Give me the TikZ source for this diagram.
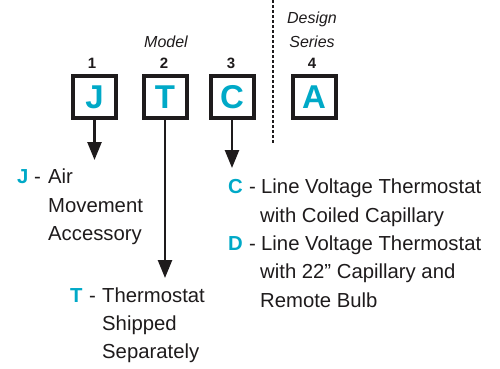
\documentclass[tikz,border=0pt]{standalone}
\usepackage{fontspec}
\setmainfont{Liberation Sans}
\usetikzlibrary{arrows.meta}
\definecolor{cy}{RGB}{0,169,199}
\definecolor{ink}{RGB}{30,27,28}
\tikzset{
  codebox/.style={draw=ink, line width=4pt, minimum width=43pt, minimum height=42pt, inner sep=0pt,
    font=\fontsize{33}{36}\selectfont\bfseries, text=cy},
  numlbl/.style={font=\fontsize{15}{17}\selectfont\bfseries, text=ink, anchor=base, inner sep=0pt},
  hdr/.style={font=\fontsize{16}{18}\selectfont\itshape, text=ink, anchor=base, inner sep=0pt},
  desc/.style={font=\fontsize{20.3}{24}\selectfont, text=ink, anchor=base west, inner sep=0pt},
  key/.style={font=\fontsize{20.3}{24}\selectfont\bfseries, text=cy, anchor=base west, inner sep=0pt},
  arr/.style={draw=ink, line width=2.5pt, -{Triangle[length=18pt,width=14pt]}},
  sep/.style={draw=ink, line width=1.3pt, dash pattern=on 3pt off 2pt}
}
\begin{document}
\begin{tikzpicture}[x=1pt,y=-1pt]
\useasboundingbox (0,0) rectangle (500,368);
% boxes
\node[codebox] (J) at (94.5,97) {J};
\node[codebox] (T) at (165,97) {T};
\node[codebox] (C) at (232,97) {C};
\node[codebox] (A) at (314,97) {A};
% numbers
\node[numlbl] (n1) at (92,68) {1};
\node[numlbl] (n2) at (164,68) {2};
\node[numlbl] (n3) at (231,68) {3};
\node[numlbl] (n4) at (312,68) {4};
% headers
\node[hdr] (model) at (166,47) {Model};
\node[hdr] (design) at (312,23) {Design};
\node[hdr] (series) at (312,47) {Series};
% separator
\coordinate (s1) at (273,0);
\coordinate (s2) at (273,143);
\draw[sep] (s1) -- (s2);
% arrow ends
\coordinate (jt) at (94.5,160);
\coordinate (tt) at (165,278);
\coordinate (ct) at (232,168);
\draw[arr] (J.south) -- (jt);
\draw[arr] (T.south) -- (tt);
\draw[arr] (C.south) -- (ct);
% J text
\node[key] (kJ) at (17,183) {J};
\node[desc] (dJ0) at (34,183) {-};
\node[desc] (dJ1) at (48,183) {Air};
\node[desc] (dJ2) at (48,212) {Movement};
\node[desc] (dJ3) at (48,240) {Accessory};
% T text
\node[key] (kT) at (70,302) {T};
\node[desc] (dT0) at (89,302) {-};
\node[desc] (dT1) at (102,302) {Thermostat};
\node[desc] (dT2) at (102,330) {Shipped};
\node[desc] (dT3) at (102,358) {Separately};
% C / D text
\node[key] (kC) at (228,193) {C};
\node[desc] (dC0) at (249,193) {-};
\node[desc] (dC1) at (261,193) {Line Voltage Thermostat};
\node[desc] (dC2) at (260,222) {with Coiled Capillary};
\node[key] (kD) at (228,250) {D};
\node[desc] (dD0) at (249,250) {-};
\node[desc] (dD1) at (261,250) {Line Voltage Thermostat};
\node[desc] (dD2) at (260,278) {with 22” Capillary and};
\node[desc] (dD3) at (260,307) {Remote Bulb};
\end{tikzpicture}
\end{document}
